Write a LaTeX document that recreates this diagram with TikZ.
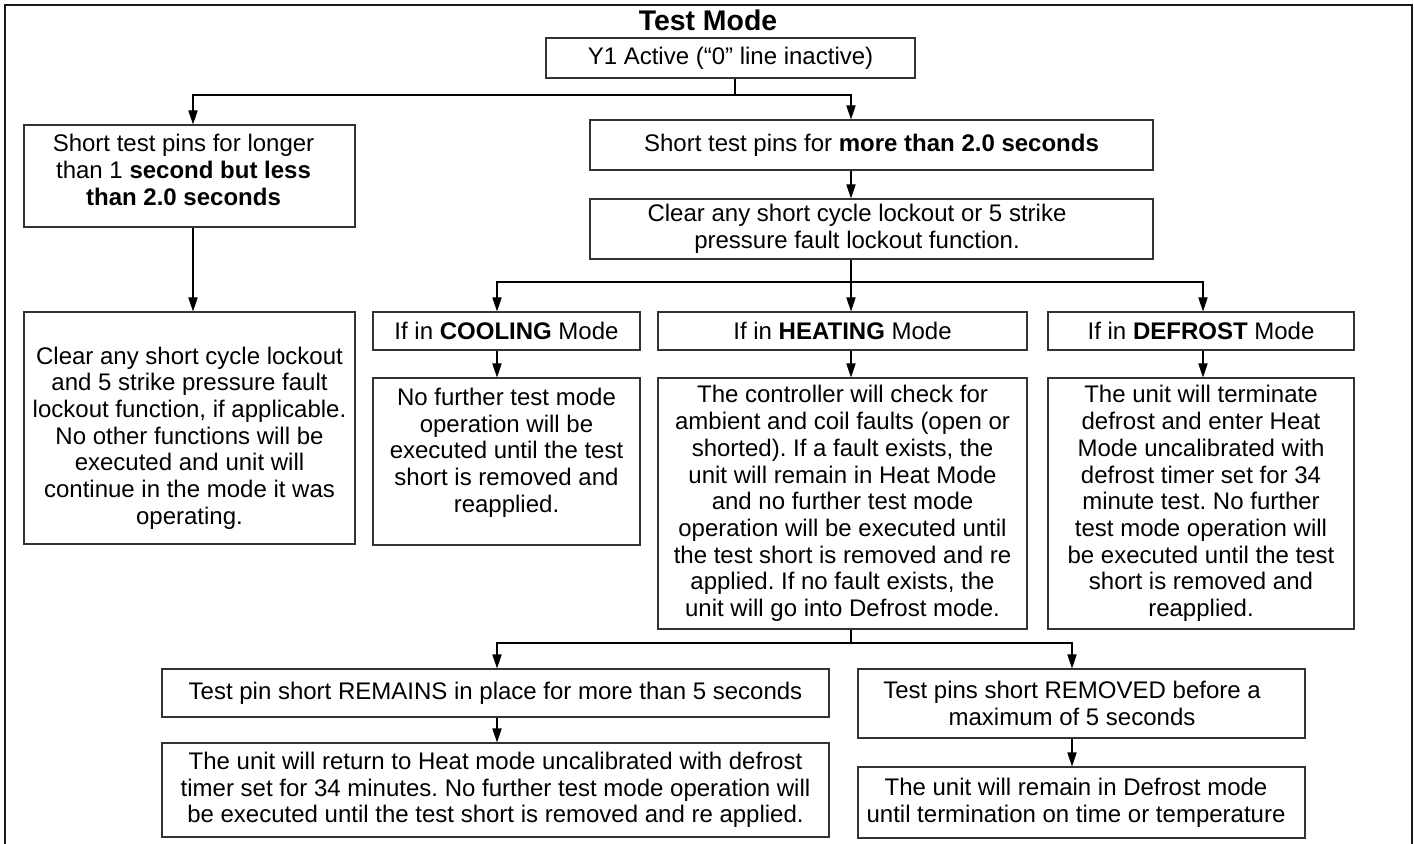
\documentclass[tikz,border=0pt]{standalone}
\usepackage{fontspec}
\setmainfont{Liberation Sans}
\usetikzlibrary{arrows.meta}
\frenchspacing
\begin{document}
\begin{tikzpicture}[x=0.5pt,y=-0.5pt,
  txt/.style={align=center, inner sep=0pt, font=\fontsize{12}{13.35}\selectfont},
  box/.style={txt, draw=black!80, line width=0.55pt},
  arr/.style={-{Triangle[length=7pt,width=4.6pt]}, line width=0.55pt, draw=black},
  ln/.style={line width=0.55pt, draw=black},
  frame/.style={line width=1pt, draw=black!90},
]
\useasboundingbox (0,0) rectangle (1414,844);
\clip (0,0) rectangle (1414,844);
\draw[frame] (5,860) -- (5,5) -- (1412,5) -- (1412,860);

\node[font=\bfseries\fontsize{14.2}{16}\selectfont, anchor=base] (title) at (708,31) {Test Mode};

\node[box, minimum width=184.5pt, minimum height=20pt] (y1) at (730.5,58) {Y1 Active (“0” line inactive)};

\node[box, minimum width=165.5pt, minimum height=51pt,
  label={[txt, xshift=-3pt, yshift=3pt]center:{Short test pins for longer\\ than 1 \textbf{second but less}\\ \textbf{than 2.0 seconds}}}] (l1) at (189.5,176) {};

\node[box, minimum width=281.5pt, minimum height=25pt] (r1) at (871.5,145) {Short test pins for \textbf{more than 2.0 seconds}};

\node[box, minimum width=281.5pt, minimum height=30pt,
  label={[txt, xshift=-7.25pt]center:{Clear any short cycle lockout or 5 strike\\ pressure fault lockout function.}}] (clear) at (871.5,229) {};

\node[box, minimum width=165.5pt, minimum height=116pt,
  label={[txt, yshift=-5pt]center:{Clear any short cycle lockout\\ and 5 strike pressure fault\\ lockout function, if applicable.\\ No other functions will be\\ executed and unit will\\ continue in the mode it was\\ operating.}}] (l2) at (189.5,428) {};

\node[box, minimum width=133.5pt, minimum height=19pt] (coolh) at (506.5,331) {If in \textbf{COOLING} Mode};
\node[box, minimum width=133.5pt, minimum height=83.5pt,
  label={[txt, yshift=4.5pt]center:{No further test mode\\ operation will be\\ executed until the test\\ short is removed and\\ reapplied.}}] (coolb) at (506.5,461.5) {};

\node[box, minimum width=184.5pt, minimum height=19pt] (heath) at (842.5,331) {If in \textbf{HEATING} Mode};
\node[box, minimum width=184.5pt, minimum height=125.5pt] (heatb) at (842.5,503.5) {The controller will check for\\ ambient and coil faults (open or\\ shorted). If a fault exists, the\\ unit will remain in Heat Mode\\ and no further test mode\\ operation will be executed until\\ the test short is removed and re\\ applied. If no fault exists, the\\ unit will go into Defrost mode.};

\node[box, minimum width=153pt, minimum height=19pt] (defh) at (1201,331) {If in \textbf{DEFROST} Mode};
\node[box, minimum width=153pt, minimum height=125.5pt] (defb) at (1201,503.5) {The unit will terminate\\ defrost and enter Heat\\ Mode uncalibrated with\\ defrost timer set for 34\\ minute test. No further\\ test mode operation will\\ be executed until the test\\ short is removed and\\ reapplied.};

\node[box, minimum width=333.5pt, minimum height=24pt] (bl1) at (495.5,693) {Test pin short REMAINS in place for more than 5 seconds};
\node[box, minimum width=333.5pt, minimum height=47pt] (bl2) at (495.5,790) {The unit will return to Heat mode uncalibrated with defrost\\ timer set for 34 minutes. No further test mode operation will\\ be executed until the test short is removed and re applied.};

\node[box, minimum width=223.5pt, minimum height=34.5pt,
  label={[txt, xshift=-4.75pt]center:{Test pins short REMOVED before a\\ maximum of 5 seconds}}] (br1) at (1081.5,703.5) {};
\node[box, minimum width=223.5pt, minimum height=35.5pt,
  label={[txt, xshift=-2.75pt]center:{The unit will remain in Defrost mode\\ until termination on time or temperature}}] (br2) at (1081.5,802.5) {};

% connector positions
\coordinate (xL) at (193,0);
\coordinate (xC) at (497,0);
\coordinate (xM) at (851,0);
\coordinate (xD) at (1203,0);
\coordinate (xR) at (1072,0);
\coordinate (j0) at (735,95);
\coordinate (j1) at (851,282);
\coordinate (j2) at (851,643);

\draw[ln] (y1.south -| j0) -- (j0);
\draw[arr] (j0) -| (l1.north -| xL);
\draw[arr] (j0) -| (r1.north -| xM);
\draw[arr] (r1.south -| xM) -- (clear.north -| xM);
\draw[arr] (l1.south -| xL) -- (l2.north -| xL);

\draw[ln] (clear.south -| j1) -- (j1);
\draw[arr] (j1) -| (coolh.north -| xC);
\draw[arr] (j1) -- (heath.north -| j1);
\draw[arr] (j1) -| (defh.north -| xD);

\draw[arr] (coolh.south -| xC) -- (coolb.north -| xC);
\draw[arr] (heath.south -| xM) -- (heatb.north -| xM);
\draw[arr] (defh.south -| xD) -- (defb.north -| xD);

\draw[ln] (heatb.south -| j2) -- (j2);
\draw[arr] (j2) -| (bl1.north -| xC);
\draw[arr] (j2) -| (br1.north -| xR);
\draw[arr] (bl1.south -| xC) -- (bl2.north -| xC);
\draw[arr] (br1.south -| xR) -- (br2.north -| xR);
\end{tikzpicture}
\end{document}
